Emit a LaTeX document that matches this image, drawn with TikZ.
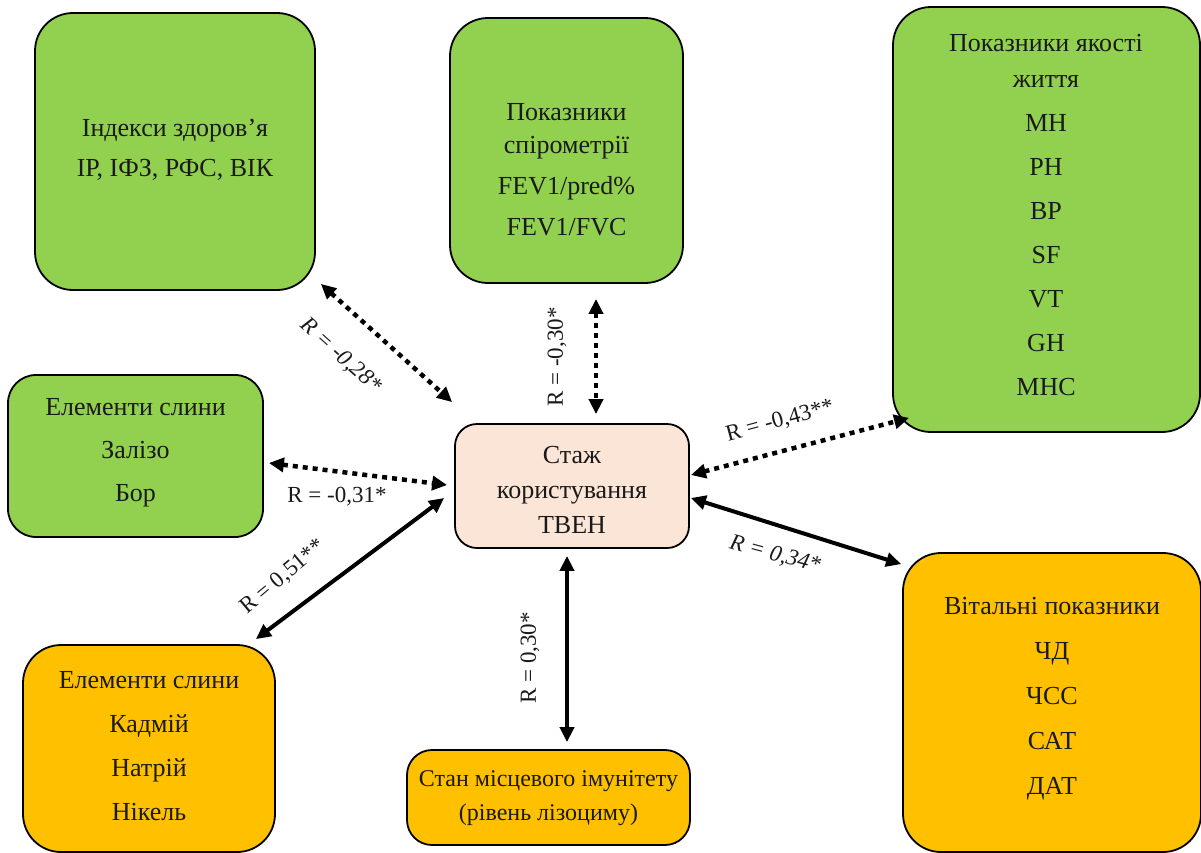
\documentclass[tikz,border=0pt]{standalone}
\usepackage{fontspec}
\setmainfont{Liberation Serif}
\usetikzlibrary{arrows.meta,calc}
\definecolor{gbox}{HTML}{92D050}
\definecolor{obox}{HTML}{FFC000}
\definecolor{pbox}{HTML}{FBE5D6}
\definecolor{ink}{HTML}{1A1A1A}
\begin{document}
\begin{tikzpicture}[x=1pt,y=-1pt,
  box/.style={draw=black, line width=1.8pt, rounded corners=38pt, inner sep=0pt},
  txt/.style={align=center, text=ink, inner sep=0pt},
  lbl/.style={text=ink, font=\fontsize{23}{26}\selectfont, inner sep=0pt},
  dotarrow/.style={line width=4.5pt, dash pattern=on 5pt off 5pt,
    {Triangle[length=15pt,width=14pt]}-{Triangle[length=15pt,width=14pt]}},
  solarrow/.style={line width=4pt,
    {Triangle[length=15pt,width=14pt]}-{Triangle[length=15pt,width=14pt]}}]
\useasboundingbox (0,0) rectangle (1201,852);
\fill[white] (0,0) rectangle (1201,852);

% boxes
\node[box, fill=gbox, minimum width=280pt, minimum height=277pt] (b1) at (175,151.5) {};
\node[box, fill=gbox, minimum width=233pt, minimum height=265pt] (b2) at (566.5,150.5) {};
\node[box, fill=gbox, minimum width=307pt, minimum height=425pt] (b3) at (1046.5,219.5) {};
\node[box, fill=gbox, rounded corners=28pt, minimum width=255pt, minimum height=162pt] (b4) at (135.5,456) {};
\node[box, fill=pbox, rounded corners=22pt, minimum width=234pt, minimum height=124pt] (c) at (572,486) {};
\node[box, fill=obox, minimum width=252pt, minimum height=207pt] (b6) at (149,748.5) {};
\node[box, fill=obox, rounded corners=25pt, minimum width=283pt, minimum height=95pt] (b7) at (548.5,797.5) {};
\node[box, fill=obox, minimum width=298pt, minimum height=299pt] (b8) at (1052,702.5) {};

% texts
\node[txt, font=\fontsize{26}{40}\selectfont] (t1) at (175,150) {Індекси здоров’я\\ІР, ІФЗ, РФС, ВІК};
\node[txt, font=\fontsize{26}{41}\selectfont] (t2) at (566.5,170) {Показники\\[-8pt]спірометрії\\FEV1/pred\%\\FEV1/FVC};
\node[txt, font=\fontsize{26}{44}\selectfont] (t3) at (1046,215) {Показники якості\\[-8pt]життя\\MH\\PH\\BP\\SF\\VT\\GH\\MHC};
\node[txt, font=\fontsize{26}{43}\selectfont] (t4) at (135.5,453) {Елементи слини\\Залізо\\Бор};
\node[txt, font=\fontsize{26}{35}\selectfont] (tc) at (572,490) {Стаж\\користування\\ТВЕН};
\node[txt, font=\fontsize{26}{44}\selectfont] (t6) at (149,746) {Елементи слини\\Кадмій\\Натрій\\Нікель};
\node[txt, font=\fontsize{24}{34}\selectfont] (t7) at (548.5,798) {Стан місцевого імунітету\\(рівень лізоциму)};
\node[txt, font=\fontsize{26}{45}\selectfont] (t8) at (1052,699) {Вітальні показники\\ЧД\\ЧСС\\САТ\\ДАТ};

% connectors
\draw[dotarrow] ([shift={(5,-7)}]b1.south east) -- ([shift={(-2,-21)}]c.north west);
\draw[dotarrow] ([shift={(29.5,15)}]b2.south) -- ([shift={(24,-9)}]c.north);
\draw[dotarrow] ([shift={(1,-11)}]c.east) -- ([shift={(17,-15)}]b3.south west);
\draw[dotarrow] ([shift={(5,7)}]b4.east) -- ([shift={(-7,-1)}]c.west);
\draw[solarrow] ([shift={(-20,-5)}]b6.north east) -- ([shift={(-10,12)}]c.west);
\draw[solarrow] ([shift={(-5,7)}]c.south) -- ([shift={(18.5,-7)}]b7.north);
\draw[solarrow] ([shift={(1,12)}]c.east) -- ([shift={(-1,12)}]b8.north west);

% labels
\node[lbl, font=\fontsize{23}{26}\selectfont\itshape, rotate=-42] (l1) at (341,356) {R = -0,28*};
\node[lbl, rotate=90] (l2) at (557,357) {R = -0,30*};
\node[lbl, rotate=15] (l3) at (780,421) {R = -0,43**};
\node[lbl] (l4) at (337,497) {R = -0,31*};
\node[lbl, rotate=40] (l5) at (283,577) {R = 0,51**};
\node[lbl, rotate=90] (l6) at (530,658) {R = 0,30*};
\node[lbl, font=\fontsize{23}{26}\selectfont\itshape, rotate=-15] (l7) at (775,555) {R = 0,34*};
\end{tikzpicture}
\end{document}
